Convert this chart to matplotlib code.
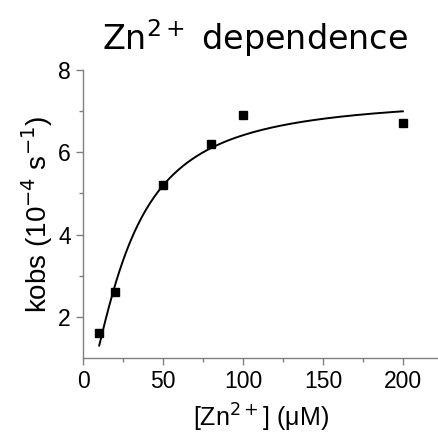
import matplotlib
matplotlib.use("Agg")
from matplotlib import pyplot as plt
import numpy as np

# measured points
zn_conc = [10, 20, 50, 80, 100, 200]      # uM
kobs = [1.6, 2.6, 5.2, 6.2, 6.9, 6.7]     # 10^-4 s^-1

# Hill fit parameters
k_max = 7.36
k_half = 27.9
n_hill = 1.5

x_ticks = [0, 50, 100, 150, 200]
y_ticks = [2, 4, 6, 8]

fig = plt.figure(figsize=(4.38, 4.43), dpi=100)
ax = fig.add_axes([0.19, 0.192, 0.81, 0.65])

xfit = np.linspace(min(zn_conc), max(zn_conc), 300)
yfit = k_max * xfit**n_hill / (k_half**n_hill + xfit**n_hill)
ax.plot(xfit, yfit, color='black', lw=1.4)
ax.plot(zn_conc, kobs, 's', color='black', markersize=5.5)

ax.set_xlim(0, 222)
ax.set_ylim(1, 8)
ax.set_xticks(x_ticks)
ax.set_yticks(y_ticks)
ax.set_xticks([25, 75, 125, 175], minor=True)
ax.set_yticks([3, 5, 7], minor=True)

for s in ['top', 'right']:
    ax.spines[s].set_visible(False)
for s in ['left', 'bottom']:
    ax.spines[s].set_color('#808080')
    ax.spines[s].set_linewidth(1.0)

ax.tick_params(which='major', length=5, width=1, color='#808080',
               labelsize=16.5, pad=4)
ax.tick_params(which='minor', length=3, width=1, color='#808080')
for lab in ax.get_xticklabels() + ax.get_yticklabels():
    lab.set_family('Liberation Sans')

fig.text(0.583, 0.915, 'Zn$^{2+}$ dependence', ha='center', va='center',
         fontsize=24, family='DejaVu Sans')

ax.set_xlabel('[Zn$^{2+}$] (\u03bcM)', fontsize=18, family='Liberation Sans',
              labelpad=6)
ax.set_ylabel('kobs (10$^{-4}$ s$^{-1}$)', fontsize=20, family='Liberation Sans',
              labelpad=2)

fig.savefig('out.png', dpi=100)
